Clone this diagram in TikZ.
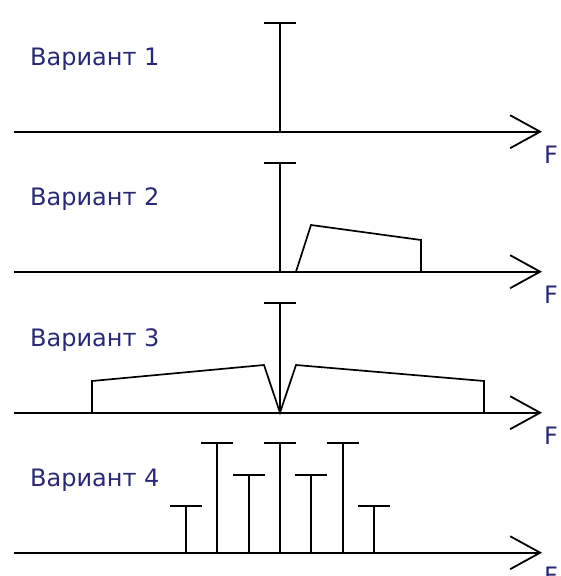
\documentclass[tikz,border=0pt]{standalone}
\usepackage{fontspec}
\setmainfont{DejaVu Sans}
\usetikzlibrary{calc,arrows.meta,positioning}
\definecolor{labelblue}{RGB}{40,40,120}

\begin{document}
\begin{tikzpicture}[x=1pt,y=-1pt]
    \tikzset{axis/.style={line width=1.8pt,-{Straight Barb[length=30pt,width=33pt,line width=1.8pt]}},
        spike/.style={line width=1.7pt},
        band/.style={line width=1.7pt,line join=miter},
        lbl/.style={text=labelblue,font=\fontsize{24}{28}\selectfont,anchor=base west,inner sep=0pt},}
    \useasboundingbox (0,0) rectangle (560,576);
    % axes, labels
    \foreach \i/\y in {1/131.7,2/271.7,3/412.7,4/552.7} {
        \coordinate (a\i) at (14,\y);
        \coordinate (b\i) at (542,\y);
        \draw[axis] (a\i) -- (b\i);
        \node[lbl] (var\i) at (30,\y-66.5) {Вариант \i};
        \node[lbl] (f\i) at (544,\y+32) {F};
    }
    % Variant 1
    \draw[spike] (280,131.7) -- (280,22.7) (264,22.7) -- (296,22.7);
    % Variant 2
    \draw[spike] (280,271.7) -- (280,163.3) (264,163.3) -- (296,163.3);
    \draw[band] (296,271.7) -- (311,225) -- (421,240) -- (421,271.7);
    % Variant 3
    \draw[spike] (280,412.7) -- (280,302.7) (264,302.7) -- (296,302.7);
    \draw[band] (92,412.7) -- (92,381) -- (264,365) -- (280,412.7) -- (296,365) -- (484,381) -- (484,412.7);
    % Variant 4
    \foreach \x/\h in {186/506,217/443.3,249/475,280/443.3,311/475,343/443.3,374/506}
        \draw[spike] (\x,552.7) -- (\x,\h) (\x-16,\h) -- (\x+16,\h);
\end{tikzpicture}
\end{document}
